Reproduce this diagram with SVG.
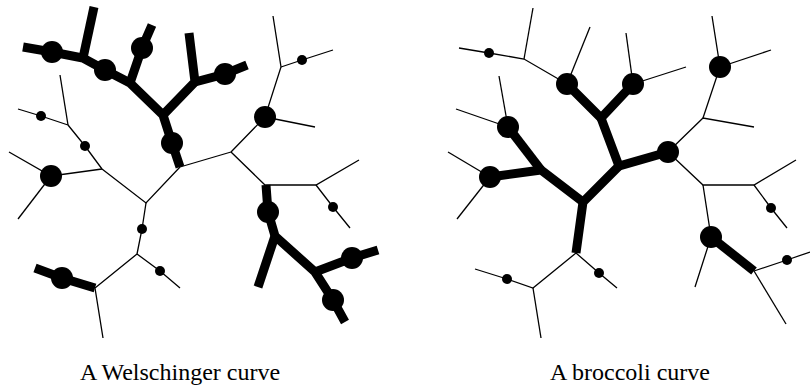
<svg xmlns="http://www.w3.org/2000/svg" width="810" height="387" viewBox="0 0 810 387">
<style>
.thin{fill:none;stroke:#000;stroke-width:1.3;stroke-linejoin:miter}
.thick{fill:none;stroke:#000;stroke-width:9;stroke-linejoin:miter;stroke-linecap:butt}
.big{fill:#000}
.small{fill:#000}
.lbl{font-family:"Liberation Serif","DejaVu Serif",serif;font-size:24px;fill:#000;text-anchor:middle}
</style>
<rect width="810" height="387" fill="#fff"/>
<g id="welschinger">
  <g id="w-connectors">
    <polyline class="thin" points="180,167 231,152"/>
    <polyline class="thin" points="231,152 265,117 281,67 273,16"/>
    <polyline class="thin" points="281,67 302,60 333,50"/>
    <polyline class="thin" points="265,117 315,127"/>
    <polyline class="thin" points="231,152 265,185 316,185 359,160"/>
    <polyline class="thin" points="316,185 333,207 350,228"/>
    <polyline class="thin" points="60,75 68,125"/>
    <polyline class="thin" points="18,109 41,116 68,125"/>
    <polyline class="thin" points="68,125 85,146 102,169"/>
    <polyline class="thin" points="102,169 51,176 9,152"/>
    <polyline class="thin" points="51,176 18,219"/>
    <polyline class="thin" points="102,169 146,203 180,167"/>
    <polyline class="thin" points="146,203 142,229 137,254"/>
    <polyline class="thin" points="137,254 160,271 180,288"/>
    <polyline class="thin" points="137,254 95,288 103,338"/>
    <polyline class="thick" points="23,47 52,52 83,58 105,70 130,83 163,115 172,143 180,167"/>
    <polyline class="thick" points="94,7 83,58"/>
    <polyline class="thick" points="130,83 142,48 152,25"/>
    <polyline class="thick" points="163,115 195,82 189,33"/>
    <polyline class="thick" points="195,82 225,74 247,65"/>
    <polyline class="thick" points="266,185 268,212 275,236 315,272 333,300 345,322"/>
    <polyline class="thick" points="275,236 258,287"/>
    <polyline class="thick" points="315,272 352,258 378,250"/>
    <polyline class="thick" points="95,288 62,278 35,268"/>
  </g>
  <g id="w-dots">
    <circle class="big" cx="52" cy="52" r="11"/>
    <circle class="big" cx="105" cy="70" r="11"/>
    <circle class="big" cx="142" cy="48" r="11"/>
    <circle class="big" cx="172" cy="143" r="11"/>
    <circle class="big" cx="225" cy="74" r="11"/>
    <circle class="big" cx="265" cy="117" r="11"/>
    <circle class="big" cx="51" cy="176" r="11"/>
    <circle class="big" cx="268" cy="212" r="11"/>
    <circle class="big" cx="352" cy="258" r="11"/>
    <circle class="big" cx="333" cy="300" r="11"/>
    <circle class="big" cx="62" cy="278" r="11"/>
    <circle class="small" cx="302" cy="60" r="5"/>
    <circle class="small" cx="41" cy="116" r="5"/>
    <circle class="small" cx="85" cy="146" r="5"/>
    <circle class="small" cx="333" cy="207" r="5"/>
    <circle class="small" cx="142" cy="229" r="5"/>
    <circle class="small" cx="160" cy="271" r="5"/>
  </g>
  <text class="lbl" x="180" y="380">A Welschinger curve</text>
</g>
<g id="broccoli">
  <g id="b-connectors">
    <polyline class="thin" points="459,48 489,53 524,59 567,84"/>
    <polyline class="thin" points="524,59 533,8"/>
    <polyline class="thin" points="567,84 590,27"/>
    <polyline class="thin" points="633,84 626,33"/>
    <polyline class="thin" points="633,84 686,67"/>
    <polyline class="thin" points="668,152 703,118 754,127"/>
    <polyline class="thin" points="703,118 720,67 712,16"/>
    <polyline class="thin" points="720,67 771,50"/>
    <polyline class="thin" points="668,152 703,185 754,185 796,160"/>
    <polyline class="thin" points="754,185 771,208 787,228"/>
    <polyline class="thin" points="703,185 711,237 695,287"/>
    <polyline class="thin" points="754,271 787,260 810,252"/>
    <polyline class="thin" points="754,271 786,324"/>
    <polyline class="thin" points="508,127 499,76"/>
    <polyline class="thin" points="508,127 456,109"/>
    <polyline class="thin" points="490,177 448,152"/>
    <polyline class="thin" points="490,177 457,219"/>
    <polyline class="thin" points="576,253 599,273 617,288"/>
    <polyline class="thin" points="576,253 533,288 507,279 475,269"/>
    <polyline class="thin" points="533,288 541,338"/>
    <polyline class="thick" points="567,84 601,118 633,84"/>
    <polyline class="thick" points="601,118 619,166 668,152"/>
    <polyline class="thick" points="619,166 583,202 576,253"/>
    <polyline class="thick" points="583,202 541,170 490,177"/>
    <polyline class="thick" points="541,170 508,127"/>
    <polyline class="thick" points="711,237 754,271"/>
  </g>
  <g id="b-dots">
    <circle class="big" cx="567" cy="84" r="11"/>
    <circle class="big" cx="633" cy="84" r="11"/>
    <circle class="big" cx="668" cy="152" r="11"/>
    <circle class="big" cx="508" cy="127" r="11"/>
    <circle class="big" cx="490" cy="177" r="11"/>
    <circle class="big" cx="720" cy="67" r="11"/>
    <circle class="big" cx="711" cy="237" r="11"/>
    <circle class="small" cx="489" cy="53" r="5"/>
    <circle class="small" cx="599" cy="273" r="5"/>
    <circle class="small" cx="507" cy="279" r="5"/>
    <circle class="small" cx="771" cy="208" r="5"/>
    <circle class="small" cx="787" cy="260" r="5"/>
  </g>
  <text class="lbl" x="630" y="380">A broccoli curve</text>
</g>
</svg>
